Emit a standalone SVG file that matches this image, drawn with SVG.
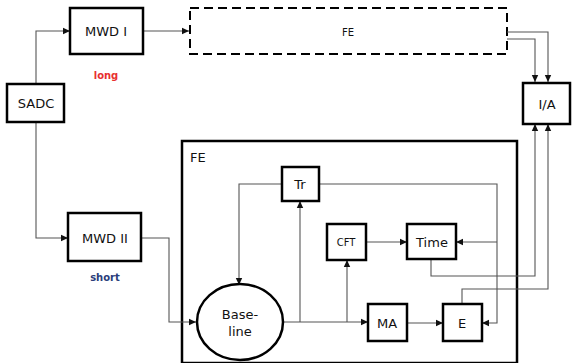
<svg xmlns="http://www.w3.org/2000/svg" width="572" height="363" viewBox="0 0 572 363">
<defs>
<marker id="ah" markerWidth="8" markerHeight="8" refX="7" refY="4" orient="auto" markerUnits="userSpaceOnUse">
<path d="M0,0.8 L7,4 L0,7.2 Z" fill="#111"/>
</marker>
<style>
.box{fill:#fff;stroke:#000;stroke-width:2.5}
.t{font-family:"DejaVu Sans",sans-serif;font-size:13px;fill:#111;text-anchor:middle;dominant-baseline:central}
.s{font-size:10px}
.c{fill:none;stroke:#555;stroke-width:1.1}
.a{marker-end:url(#ah)}
</style>
</defs>
<rect width="572" height="363" fill="#fff"/>
<g id="fe-outer">
<rect x="182" y="141" width="335" height="222" fill="none" stroke="#000" stroke-width="2.5"/>
<text x="190" y="157" class="t" style="text-anchor:start">FE</text>
</g>
<g id="fe-dashed">
<rect x="190" y="8" width="317" height="46" fill="none" stroke="#000" stroke-width="2" stroke-dasharray="9,5"/>
<text x="348" y="32" class="t s">FE</text>
</g>
<g id="connectors">
<path class="c a" d="M36,84 V31 H70"/>
<path class="c a" d="M36,122 V238 H68"/>
<path class="c a" d="M143,31 H189"/>
<path class="c a" d="M507,32 H548 V82"/>
<path class="c a" d="M507,39 H535 V82"/>
<path class="c a" d="M141,238 H169 V322 H196"/>
<path class="c a" d="M282,322 H368"/>
<path class="c a" d="M300,322 V201"/>
<path class="c a" d="M347,322 V260"/>
<path class="c a" d="M282,184 H239 V285"/>
<path class="c a" d="M319,184 H497 V323 H482"/>
<path class="c a" d="M497,242 H456"/>
<path class="c a" d="M366,242 H407"/>
<path class="c a" d="M407,323 H443"/>
<path class="c a" d="M431,259 V276 H535 V124"/>
<path class="c a" d="M462,304 V289 H548 V124"/>
</g>
<g id="sadc"><rect class="box" x="7" y="84" width="57" height="38"/><text class="t" x="36" y="103">SADC</text></g>
<g id="mwd1"><rect class="box" x="70" y="8" width="73" height="46"/><text class="t" x="106" y="31">MWD I</text></g>
<text x="106" y="75" style="font-family:'DejaVu Sans',sans-serif;font-size:10px;font-weight:bold;fill:#e8302f;text-anchor:middle;dominant-baseline:central">long</text>
<g id="mwd2"><rect class="box" x="68" y="213" width="73" height="48"/><text class="t" x="105" y="238">MWD II</text></g>
<text x="105" y="277" style="font-family:'DejaVu Sans',sans-serif;font-size:10px;font-weight:bold;fill:#2a3d7a;text-anchor:middle;dominant-baseline:central">short</text>
<g id="ia"><rect class="box" x="523" y="83" width="47" height="41"/><text class="t" x="547" y="104">I/A</text></g>
<g id="baseline"><ellipse cx="240" cy="322" rx="43" ry="38" fill="#fff" stroke="#000" stroke-width="2.5"/><text class="t" x="240" y="314">Base-</text><text class="t" x="240" y="331">line</text></g>
<g id="tr"><rect class="box" x="282" y="167" width="37" height="34"/><text class="t" x="300" y="184">Tr</text></g>
<g id="cft"><rect class="box" x="327" y="224" width="39" height="36"/><text class="t s" x="346" y="242">CFT</text></g>
<g id="time"><rect class="box" x="407" y="224" width="49" height="35"/><text class="t" x="432" y="242">Time</text></g>
<g id="ma"><rect class="box" x="368" y="304" width="39" height="37"/><text class="t" x="387" y="323">MA</text></g>
<g id="e"><rect class="box" x="443" y="304" width="39" height="37"/><text class="t" x="462" y="323">E</text></g>
</svg>
